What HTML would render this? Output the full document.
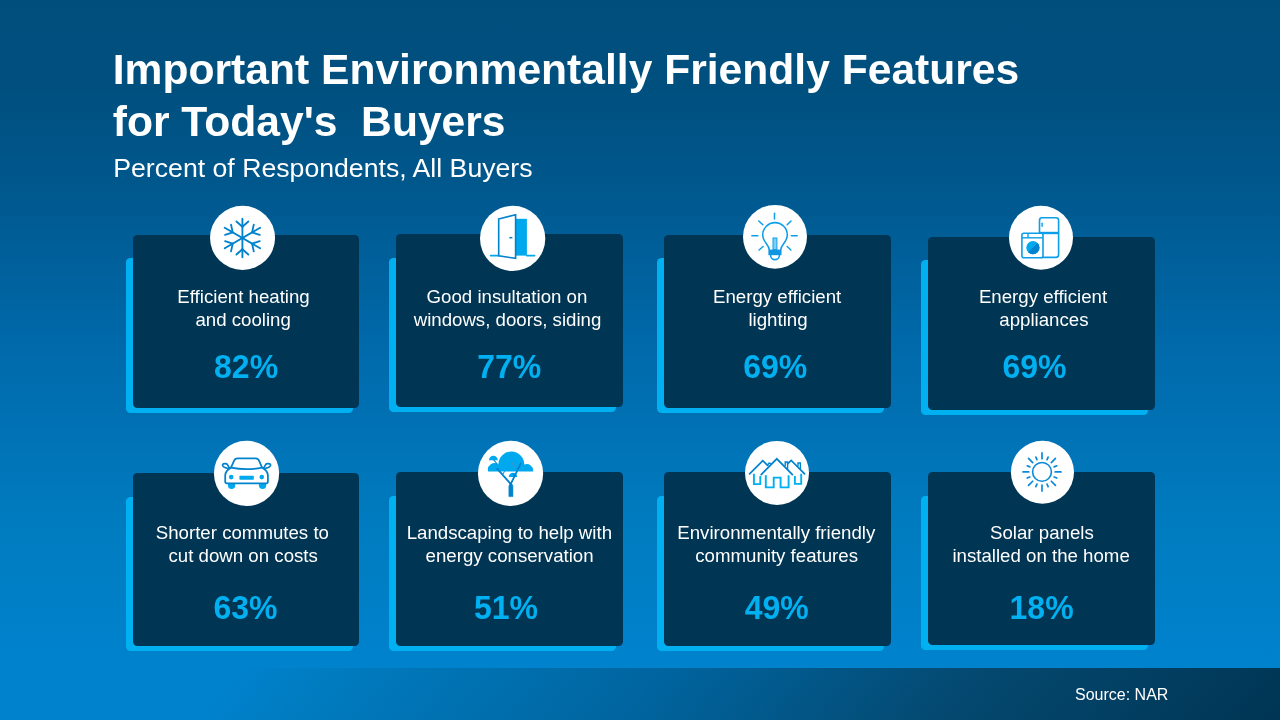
<!DOCTYPE html>
<html lang="en"><head><meta charset="utf-8"><title>Important Environmentally Friendly Features for Today's Buyers</title>
<style>
*{margin:0;padding:0;box-sizing:border-box}
html,body{width:1280px;height:720px;overflow:hidden}
body{position:relative;font-family:"Liberation Sans",Arial,sans-serif;color:#fff;
 background:linear-gradient(180deg,#004e7c 0%,#00507f 12.5%,#00578c 25%,#006bad 50%,#007dc1 75%,#0082cd 92%,#0082cd 100%);}
.foot{position:absolute;left:0;top:668px;width:1280px;height:52px;
 background:linear-gradient(130deg,#0082cd 0%,#0082cd 18%,#007bbf 26%,#0065a0 50%,#04486f 75%,#003554 100%);}
.t{position:absolute;white-space:pre;line-height:1}
.title{font-weight:700;font-size:42.6px;left:112.75px}
.sub{font-size:26.67px;left:113.25px}
.sh{position:absolute;background:#00b0f0;border-radius:4.5px}
.cd{position:absolute;background:#003554;border-radius:4.5px}
.ov{position:absolute;left:0;top:0;width:1280px;height:720px}
.lb{position:absolute;width:260px;height:20px;text-align:center;font-size:18.67px;line-height:20px;white-space:pre}
.pc{position:absolute;width:200px;height:32px;text-align:center;font-size:32px;font-weight:700;color:#00b0f0;line-height:32px;white-space:pre;transform:scaleY(1.06);transform-origin:50% 27.4px}
.src{font-size:16px;left:1075px;top:687px}
</style></head><body>
<div class="foot"></div>
<h1><span class="t title" style="top:48px">Important Environmentally Friendly Features</span>
<span class="t title" style="top:100px">for Today's  Buyers</span></h1>
<p class="t sub" style="top:155px">Percent of Respondents, All Buyers</p>
<div class="sh" style="left:126px;top:257.75px;width:227.10px;height:155.25px"></div>
<div class="cd" style="left:133.1px;top:235.25px;width:225.90px;height:172.75px"></div>
<div class="lb" id="c1L1" style="left:113.55px;top:286.63px">Efficient heating</div>
<div class="lb" id="c1L2" style="left:113.13px;top:309.83px">and cooling</div>
<div class="pc" id="c1P" style="left:146.07px;top:351.42px">82%</div>
<div class="sh" style="left:389px;top:257.75px;width:227.00px;height:154.25px"></div>
<div class="cd" style="left:396.25px;top:234px;width:226.75px;height:173.00px"></div>
<div class="lb" id="c2L1" style="left:376.98px;top:286.63px">Good insultation on</div>
<div class="lb" id="c2L2" style="left:377.52px;top:309.83px">windows, doors, siding</div>
<div class="pc" id="c2P" style="left:409.30px;top:351.42px">77%</div>
<div class="sh" style="left:657px;top:257.75px;width:227.00px;height:155.25px"></div>
<div class="cd" style="left:664.25px;top:235.25px;width:226.75px;height:172.75px"></div>
<div class="lb" id="c3L1" style="left:647.13px;top:286.63px">Energy efficient</div>
<div class="lb" id="c3L2" style="left:648.03px;top:309.83px">lighting</div>
<div class="pc" id="c3P" style="left:675.29px;top:351.42px">69%</div>
<div class="sh" style="left:921px;top:259.75px;width:227.10px;height:155.25px"></div>
<div class="cd" style="left:928.25px;top:237px;width:226.75px;height:172.90px"></div>
<div class="lb" id="c4L1" style="left:913.03px;top:286.63px">Energy efficient</div>
<div class="lb" id="c4L2" style="left:913.93px;top:309.83px">appliances</div>
<div class="pc" id="c4P" style="left:934.50px;top:351.42px">69%</div>
<div class="sh" style="left:126px;top:496.9px;width:227.10px;height:154.10px"></div>
<div class="cd" style="left:133.1px;top:473.1px;width:225.90px;height:172.90px"></div>
<div class="lb" id="c5L1" style="left:112.37px;top:522.63px">Shorter commutes to</div>
<div class="lb" id="c5L2" style="left:113.20px;top:545.93px">cut down on costs</div>
<div class="pc" id="c5P" style="left:145.48px;top:591.92px">63%</div>
<div class="sh" style="left:389px;top:496px;width:227.00px;height:155.00px"></div>
<div class="cd" style="left:396.25px;top:472px;width:226.75px;height:174.00px"></div>
<div class="lb" id="c6L1" style="left:379.37px;top:522.63px">Landscaping to help with</div>
<div class="lb" id="c6L2" style="left:379.63px;top:545.93px">energy conservation</div>
<div class="pc" id="c6P" style="left:405.95px;top:591.92px">51%</div>
<div class="sh" style="left:657px;top:496px;width:227.00px;height:155.00px"></div>
<div class="cd" style="left:664.25px;top:472px;width:226.75px;height:174.00px"></div>
<div class="lb" id="c7L1" style="left:646.32px;top:522.63px">Environmentally friendly</div>
<div class="lb" id="c7L2" style="left:646.65px;top:545.93px">community features</div>
<div class="pc" id="c7P" style="left:676.70px;top:591.92px">49%</div>
<div class="sh" style="left:921px;top:496px;width:227.10px;height:153.90px"></div>
<div class="cd" style="left:928.25px;top:472px;width:226.75px;height:173.00px"></div>
<div class="lb" id="c8L1" style="left:911.88px;top:522.63px">Solar panels</div>
<div class="lb" id="c8L2" style="left:911.11px;top:545.93px">installed on the home</div>
<div class="pc" id="c8P" style="left:941.59px;top:591.92px">18%</div>
<svg class="ov" width="1280" height="720" viewBox="0 0 1280 720"><g><ellipse cx="242.55" cy="237.9" rx="32.5" ry="32.1" fill="#fff"/><line x1="242.4" y1="257.3" x2="242.4" y2="218.7" stroke="#0082cd" stroke-width="1.85" stroke-linecap="round"/><line x1="242.4" y1="226.8" x2="236.45" y2="221.45" stroke="#0082cd" stroke-width="1.85" stroke-linecap="round"/><line x1="242.4" y1="226.8" x2="248.35" y2="221.45" stroke="#0082cd" stroke-width="1.85" stroke-linecap="round"/><line x1="224.73" y1="248.2" x2="260.07" y2="227.8" stroke="#0082cd" stroke-width="1.85" stroke-linecap="round"/><line x1="252.1" y1="232.4" x2="253.76" y2="224.57" stroke="#0082cd" stroke-width="1.85" stroke-linecap="round"/><line x1="252.1" y1="232.4" x2="259.71" y2="234.87" stroke="#0082cd" stroke-width="1.85" stroke-linecap="round"/><line x1="224.73" y1="227.8" x2="260.07" y2="248.2" stroke="#0082cd" stroke-width="1.85" stroke-linecap="round"/><line x1="252.1" y1="243.6" x2="259.71" y2="241.13" stroke="#0082cd" stroke-width="1.85" stroke-linecap="round"/><line x1="252.1" y1="243.6" x2="253.76" y2="251.43" stroke="#0082cd" stroke-width="1.85" stroke-linecap="round"/><line x1="242.4" y1="249.2" x2="248.35" y2="254.55" stroke="#0082cd" stroke-width="1.85" stroke-linecap="round"/><line x1="242.4" y1="249.2" x2="236.45" y2="254.55" stroke="#0082cd" stroke-width="1.85" stroke-linecap="round"/><line x1="232.7" y1="243.6" x2="231.04" y2="251.43" stroke="#0082cd" stroke-width="1.85" stroke-linecap="round"/><line x1="232.7" y1="243.6" x2="225.09" y2="241.13" stroke="#0082cd" stroke-width="1.85" stroke-linecap="round"/><line x1="232.7" y1="232.4" x2="225.09" y2="234.87" stroke="#0082cd" stroke-width="1.85" stroke-linecap="round"/><line x1="232.7" y1="232.4" x2="231.04" y2="224.57" stroke="#0082cd" stroke-width="1.85" stroke-linecap="round"/></g><g><ellipse cx="512.65" cy="238.45" rx="32.65" ry="32.65" fill="#fff"/><rect x="515.6" y="218.8" width="11.3" height="36.8" fill="#00a9ee"/><line x1="490.6" y1="255.6" x2="498.7" y2="255.6" stroke="#00a9ee" stroke-width="1.7" stroke-linecap="round"/><line x1="526.8" y1="255.6" x2="534.6" y2="255.6" stroke="#00a9ee" stroke-width="1.7" stroke-linecap="round"/><path d="M498.7 219 L515.6 214.8 L515.6 258.4 L498.7 255.7 Z" fill="#fff" stroke="#0082cd" stroke-width="1.6" stroke-linejoin="miter" stroke-linecap="butt"/><line x1="509.3" y1="237.7" x2="512.4" y2="237.7" stroke="#0082cd" stroke-width="1.5" stroke-linecap="butt"/></g><g><ellipse cx="775" cy="236.8" rx="32" ry="31.9" fill="#fff"/><line x1="774.5" y1="213.2" x2="774.5" y2="218.9" stroke="#0d9ee9" stroke-width="1.5" stroke-linecap="round"/><line x1="758.8" y1="221" x2="762.8" y2="224.7" stroke="#0d9ee9" stroke-width="1.5" stroke-linecap="round"/><line x1="791" y1="221" x2="787.2" y2="224.7" stroke="#0d9ee9" stroke-width="1.5" stroke-linecap="round"/><line x1="751.9" y1="235.8" x2="757.9" y2="235.8" stroke="#0d9ee9" stroke-width="1.5" stroke-linecap="round"/><line x1="791.3" y1="235.8" x2="797.2" y2="235.8" stroke="#0d9ee9" stroke-width="1.5" stroke-linecap="round"/><line x1="759.1" y1="250" x2="763.1" y2="246.5" stroke="#0d9ee9" stroke-width="1.5" stroke-linecap="round"/><line x1="790.9" y1="250" x2="787.2" y2="246.5" stroke="#0d9ee9" stroke-width="1.5" stroke-linecap="round"/><path d="M769.2 249.6 C769.2 244.6 762.7 242.2 762.7 234.9 A12.3 12.3 0 0 1 787.3 234.9 C787.3 242.2 780.8 244.6 780.8 249.6" fill="none" stroke="#0d9ee9" stroke-width="1.6" stroke-linejoin="round" stroke-linecap="round"/><rect x="773" y="238" width="3.9" height="11.6" fill="#7fd0f6" stroke="#0d9ee9" stroke-width="1"/><rect x="768.4" y="249.6" width="13.1" height="5.6" fill="#0f95e2"/><path d="M770.6 255.2 A4.4 4.4 0 0 0 779.4 255.2" fill="none" stroke="#0d9ee9" stroke-width="1.6" stroke-linejoin="round" stroke-linecap="round"/></g><g><ellipse cx="1041" cy="237.7" rx="32" ry="32" fill="#fff"/><rect x="1039.5" y="217.8" width="19.1" height="39.6" rx="2.6" fill="#fff" stroke="#0d9ee9" stroke-width="1.6"/><rect x="1039.4" y="231.8" width="19.3" height="2.4" fill="#0d9ee9"/><line x1="1042.1" y1="223.2" x2="1042.1" y2="226.2" stroke="#0d9ee9" stroke-width="1.4" stroke-linecap="round"/><rect x="1021.9" y="233.3" width="21.1" height="24.4" rx="2" fill="#fff" stroke="#0d9ee9" stroke-width="1.6"/><line x1="1022" y1="237.8" x2="1043" y2="237.8" stroke="#0d9ee9" stroke-width="1.4" stroke-linecap="butt"/><line x1="1028" y1="233.5" x2="1028" y2="237.8" stroke="#0d9ee9" stroke-width="1.4" stroke-linecap="butt"/><circle cx="1032.9" cy="247.7" r="6.6" fill="#00a9ee"/><path d="M1037.57 243.03 A6.6 6.6 0 0 1 1028.23 252.37 Z" fill="#0082cd"/></g><g><ellipse cx="246.55" cy="473.45" rx="32.6" ry="32.6" fill="#fff"/><circle cx="231.6" cy="485.2" r="3.7" fill="#00a9ee"/><circle cx="262.6" cy="485.2" r="3.7" fill="#00a9ee"/><path d="M229.2 467.6 L227.4 464.6 Q226.6 463.4 225 463.6 L223.6 463.8 Q222.2 464.4 222.8 465.8 Q223.6 467.4 226 467.8 L228.6 469" fill="none" stroke="#0082cd" stroke-width="1.75" stroke-linejoin="round" stroke-linecap="round"/><path d="M263.9 467.6 L265.7 464.6 Q266.5 463.4 268.1 463.6 L269.5 463.8 Q270.9 464.4 270.3 465.8 Q269.5 467.4 267.1 467.8 L264.5 469" fill="none" stroke="#0082cd" stroke-width="1.75" stroke-linejoin="round" stroke-linecap="round"/><path d="M231 467.6 L234.2 460.4 Q235.2 458.4 237.4 458.4 L255.7 458.4 Q257.9 458.4 258.9 460.4 L262.1 467.6 Q267.6 470.4 267.9 475.4 L267.9 481.6 Q267.9 483.4 266.1 483.4 L227 483.4 Q225.2 483.4 225.2 481.6 L225.2 475.4 Q225.5 470.4 231 467.6 Z" fill="#fff" stroke="#0082cd" stroke-width="1.75" stroke-linejoin="round" stroke-linecap="round"/><path d="M231 467.6 Q246.5 470.6 262.1 467.6" fill="none" stroke="#0082cd" stroke-width="1.75" stroke-linejoin="round" stroke-linecap="round"/><circle cx="231.2" cy="477.1" r="2.3" fill="#00a9ee"/><circle cx="261.8" cy="477.1" r="2.3" fill="#00a9ee"/><rect x="239.4" y="475.8" width="14.4" height="3.9" rx="0.8" fill="#00a9ee"/></g><g><ellipse cx="510.55" cy="473.45" rx="32.6" ry="32.6" fill="#fff"/><path d="M488.1 471.4 A6.6 6.6 0 0 1 498.4 464.4 A12.4 12.4 0 0 1 524.3 464.6 A6.4 6.4 0 0 1 533.1 471.4 Z" fill="#00a9ee"/><path d="M489 460.2 A4.4 4.4 0 0 1 497.8 460.2 Z" fill="#00a9ee"/><path d="M508.8 476.9 A4.2 4.2 0 0 1 517.2 476.9 Z" fill="#00a9ee"/><line x1="493.9" y1="460.2" x2="497.2" y2="464" stroke="#0082cd" stroke-width="1.1" stroke-linecap="round"/><line x1="513.2" y1="473.6" x2="514.2" y2="476.9" stroke="#0082cd" stroke-width="0.9" stroke-linecap="round"/><line x1="514.6" y1="466.4" x2="511.8" y2="462.6" stroke="#4a8fbf" stroke-width="1.1" stroke-linecap="round"/><line x1="510.4" y1="483.6" x2="497.3" y2="468.8" stroke="#0082cd" stroke-width="1.8" stroke-linecap="round"/><line x1="511.2" y1="483.2" x2="520.5" y2="463.8" stroke="#0082cd" stroke-width="1.8" stroke-linecap="round"/><line x1="502.6" y1="474.6" x2="504.4" y2="471.6" stroke="#0082cd" stroke-width="1.0" stroke-linecap="round"/><path d="M508.9 496.6 L508.9 486 L510.6 482 L512.9 485.6 L512.9 496.6 Z" fill="#0082cd" stroke="#0082cd" stroke-width="0.6" stroke-linejoin="round"/></g><g><ellipse cx="777" cy="472.9" rx="32" ry="32" fill="#fff"/><path d="M753.9 473.8 L753.9 484.1 L760.3 484.1 L760.3 476" fill="none" stroke="#00b0f0" stroke-width="1.9" stroke-linejoin="miter" stroke-linecap="butt"/><path d="M801.2 473.8 L801.2 483.9 L794.9 483.9 L794.9 476" fill="none" stroke="#00b0f0" stroke-width="1.9" stroke-linejoin="miter" stroke-linecap="butt"/><path d="M765.8 475.2 L765.8 487.4 L773.7 487.4 L773.7 477.6 L780.6 477.6 L780.6 487.4 L788.6 487.4 L788.6 475.2" fill="none" stroke="#00b0f0" stroke-width="1.9" stroke-linejoin="miter" stroke-linecap="butt"/><path d="M749.6 473.8 L762.8 460.7 L767.6 465.4" fill="none" stroke="#0082cd" stroke-width="1.7" stroke-linejoin="miter" stroke-linecap="round"/><path d="M768.2 463.4 L768.2 465.2 M770.6 463.2 L770.6 464.2 M768.2 463.3 L770.6 463.3" fill="none" stroke="#0082cd" stroke-width="1.4" stroke-linejoin="miter" stroke-linecap="butt"/><path d="M761.2 474.6 L776.8 458.8 L792.4 474.6" fill="none" stroke="#0082cd" stroke-width="1.7" stroke-linejoin="miter" stroke-linecap="round"/><path d="M785.2 466.2 L785.2 462 L787.6 462 L787.6 469.4" fill="none" stroke="#0082cd" stroke-width="1.4" stroke-linejoin="miter" stroke-linecap="butt"/><path d="M787.6 463.8 L791.2 460.4 L804.6 473.8" fill="none" stroke="#0082cd" stroke-width="1.7" stroke-linejoin="miter" stroke-linecap="round"/><path d="M798 466.6 L798 463 L800.4 463 L800.4 469" fill="none" stroke="#0082cd" stroke-width="1.4" stroke-linejoin="miter" stroke-linecap="butt"/></g><g><ellipse cx="1042.45" cy="472.25" rx="31.55" ry="31.45" fill="#fff"/><circle cx="1042.0" cy="471.9" r="9.4" fill="none" stroke="#0a8ad6" stroke-width="1.6"/><line x1="1042" y1="458.7" x2="1042" y2="452.9" stroke="#0a8ad6" stroke-width="1.7" stroke-linecap="round"/><line x1="1047.05" y1="459.7" x2="1048.12" y2="457.12" stroke="#0a8ad6" stroke-width="1.7" stroke-linecap="round"/><line x1="1051.33" y1="462.57" x2="1055.44" y2="458.46" stroke="#0a8ad6" stroke-width="1.7" stroke-linecap="round"/><line x1="1054.2" y1="466.85" x2="1056.78" y2="465.78" stroke="#0a8ad6" stroke-width="1.7" stroke-linecap="round"/><line x1="1055.2" y1="471.9" x2="1061" y2="471.9" stroke="#0a8ad6" stroke-width="1.7" stroke-linecap="round"/><line x1="1054.2" y1="476.95" x2="1056.78" y2="478.02" stroke="#0a8ad6" stroke-width="1.7" stroke-linecap="round"/><line x1="1051.33" y1="481.23" x2="1055.44" y2="485.34" stroke="#0a8ad6" stroke-width="1.7" stroke-linecap="round"/><line x1="1047.05" y1="484.1" x2="1048.12" y2="486.68" stroke="#0a8ad6" stroke-width="1.7" stroke-linecap="round"/><line x1="1042" y1="485.1" x2="1042" y2="490.9" stroke="#0a8ad6" stroke-width="1.7" stroke-linecap="round"/><line x1="1036.95" y1="484.1" x2="1035.88" y2="486.68" stroke="#0a8ad6" stroke-width="1.7" stroke-linecap="round"/><line x1="1032.67" y1="481.23" x2="1028.56" y2="485.34" stroke="#0a8ad6" stroke-width="1.7" stroke-linecap="round"/><line x1="1029.8" y1="476.95" x2="1027.22" y2="478.02" stroke="#0a8ad6" stroke-width="1.7" stroke-linecap="round"/><line x1="1028.8" y1="471.9" x2="1023" y2="471.9" stroke="#0a8ad6" stroke-width="1.7" stroke-linecap="round"/><line x1="1029.8" y1="466.85" x2="1027.22" y2="465.78" stroke="#0a8ad6" stroke-width="1.7" stroke-linecap="round"/><line x1="1032.67" y1="462.57" x2="1028.56" y2="458.46" stroke="#0a8ad6" stroke-width="1.7" stroke-linecap="round"/><line x1="1036.95" y1="459.7" x2="1035.88" y2="457.12" stroke="#0a8ad6" stroke-width="1.7" stroke-linecap="round"/></g></svg>
<div class="t src">Source: NAR</div>
</body></html>
